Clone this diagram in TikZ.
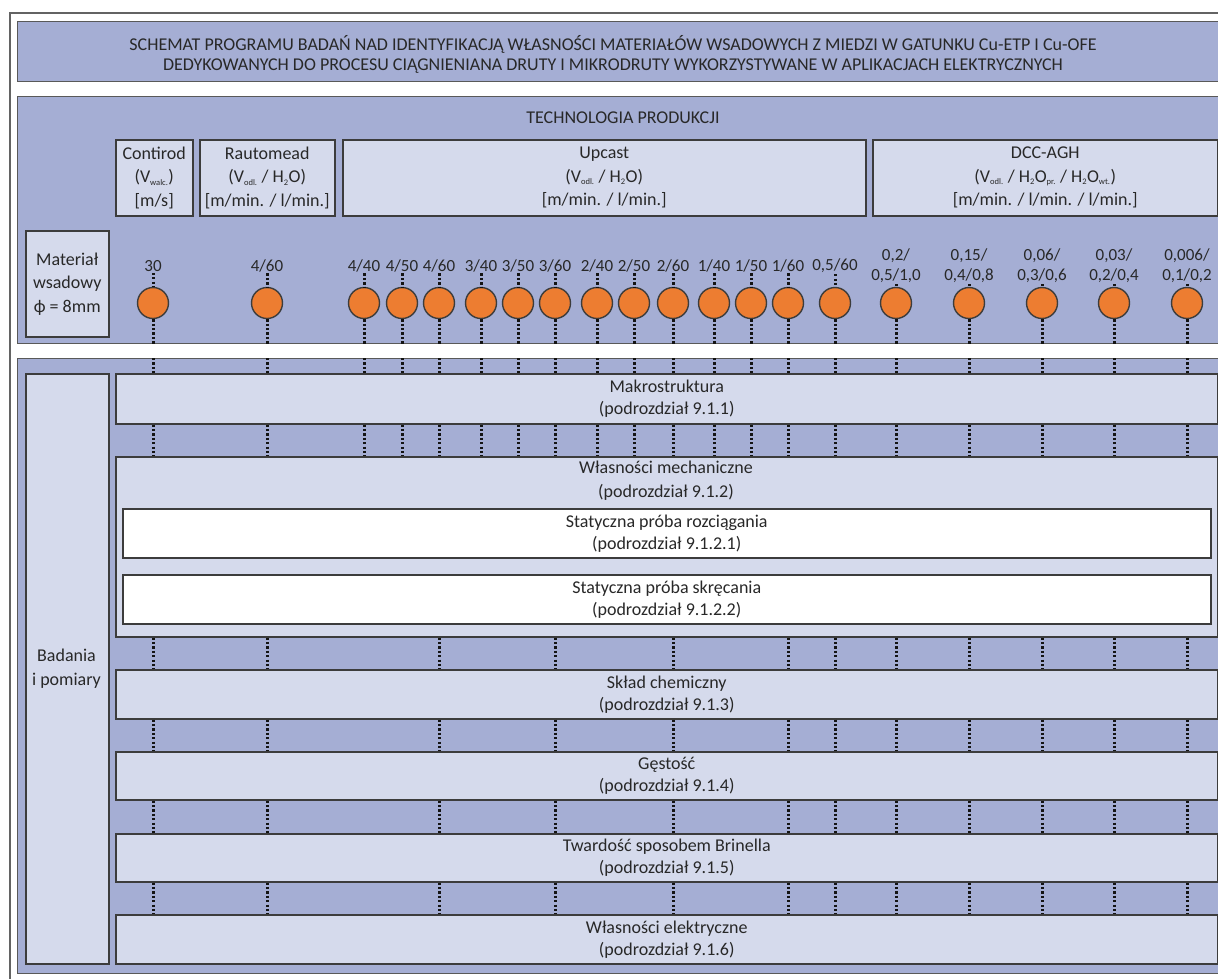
\documentclass[tikz,border=0pt]{standalone}
\usepackage{fontspec}
\setmainfont{Carlito}
\definecolor{panelblue}{RGB}{165,174,212}
\definecolor{boxblue}{RGB}{213,218,236}
\definecolor{edge}{RGB}{60,60,60}
\definecolor{inktext}{RGB}{40,40,40}
\definecolor{dotink}{RGB}{20,20,20}
\definecolor{copper}{RGB}{237,125,49}
\newcommand\lo[1]{\textsubscript{\fontsize{8.5}{8.5}\selectfont #1}}
\tikzset{
  panel/.style={draw=edge!85, line width=1.2pt, fill=panelblue, inner sep=0pt, anchor=north west},
  box/.style={draw=edge, line width=1.5pt, fill=boxblue, inner sep=0pt, anchor=north west,
    align=center, text=inktext, font=\fontsize{18}{22}\selectfont},
  techbox/.style={box, font=\fontsize{18}{23.5}\selectfont},
  wbox/.style={box, fill=white},
  txt/.style={text=inktext, align=center, inner sep=1pt, font=\fontsize{18}{20}\selectfont},
  lbl/.style={text=inktext, align=center, inner sep=1pt, font=\fontsize{17}{20}\selectfont},
  circ/.style={shape=circle, draw=edge, line width=1.4pt, fill=copper, minimum size=31pt, inner sep=0pt},
  dotline/.style={draw=dotink, line width=3pt, dash pattern=on 2.3pt off 2.1pt}
}
\begin{document}
\begin{tikzpicture}[x=1pt,y=-1pt]
\useasboundingbox (0,0) rectangle (1218,978);
\clip (0,0) rectangle (1218,978);
\fill[white] (0,0) rectangle (1218,978);
% outer frame
\draw[edge!80, line width=1.5pt] (10,13) rectangle (1240,1000);
% panels
\node[panel, minimum width=1223pt, minimum height=60pt] (head) at (17,21) {};
\node[txt] (headtxt) at (613,54) {SCHEMAT PROGRAMU BADAŃ NAD IDENTYFIKACJĄ WŁASNOŚCI MATERIAŁÓW WSADOWYCH Z MIEDZI W GATUNKU Cu-ETP I Cu-OFE\\DEDYKOWANYCH DO PROCESU CIĄGNIENIANA DRUTY I MIKRODRUTY WYKORZYSTYWANE W APLIKACJACH ELEKTRYCZNYCH};
\node[panel, minimum width=1223pt, minimum height=247pt] (top) at (17,96) {};
\node[txt] (techtxt) at (623,118) {TECHNOLOGIA PRODUKCJI};
\node[panel, minimum width=1223pt, minimum height=615pt] (low) at (17,358) {};
% production technologies
\node[techbox, minimum width=77pt, minimum height=76pt] (contirod) at (115,139) {Contirod\\(V\lo{walc.})\\{[m/s]}};
\node[techbox, minimum width=135pt, minimum height=76pt] (rauto) at (199,139) {Rautomead\\(V\lo{odl.} / H\lo{2}O)\\{[m/min. / l/min.]}};
\node[techbox, minimum width=523pt, minimum height=76pt] (upcast) at (342,139) {Upcast\\(V\lo{odl.} / H\lo{2}O)\\{[m/min. / l/min.]}};
\node[techbox, minimum width=345pt, minimum height=76pt] (dcc) at (872,139) {DCC-AGH\\(V\lo{odl.} / H\lo{2}O\lo{pr.} / H\lo{2}O\lo{wt.})\\{[m/min. / l/min. / l/min.]}};
\node[techbox, minimum width=83pt, minimum height=106pt] (feed) at (25,230) {Materiał\\wsadowy\\ϕ = 8mm};
% tests and measurements
\node[box, minimum width=83pt, minimum height=590pt] (tests) at (25,373) {};
\node[txt, font=\fontsize{18}{24}\selectfont] (teststxt) at (66.5,669) {Badania\\i pomiary};
\node[box, minimum width=1102pt, minimum height=50pt] (makro) at (115,373) {Makrostruktura\\(podrozdział 9.1.1)};
\node[box, minimum width=1102pt, minimum height=180pt] (mech) at (115,456) {};
\node[txt, font=\fontsize{18}{24}\selectfont] (mechtxt) at (666,481) {Własności mechaniczne\\(podrozdział 9.1.2)};
\node[wbox, minimum width=1088pt, minimum height=49pt] (tens) at (122,508) {Statyczna próba rozciągania\\(podrozdział 9.1.2.1)};
\node[wbox, minimum width=1088pt, minimum height=49pt] (tors) at (122,574) {Statyczna próba skręcania\\(podrozdział 9.1.2.2)};
\node[box, minimum width=1102pt, minimum height=49pt] (chem) at (115,669) {Skład chemiczny\\(podrozdział 9.1.3)};
\node[box, minimum width=1102pt, minimum height=48pt] (dens) at (115,751) {Gęstość\\(podrozdział 9.1.4)};
\node[box, minimum width=1102pt, minimum height=48pt] (hard) at (115,833) {Twardość sposobem Brinella\\(podrozdział 9.1.5)};
\node[box, minimum width=1102pt, minimum height=49pt] (elec) at (115,914) {Własności elektryczne\\(podrozdział 9.1.6)};
% samples and their paths through the tests
\foreach \cx/\lab/\low [count=\i] in {
  153/{30}/1, 267/{4/60}/1, 364/{4/40}/0, 402/{4/50}/0, 439/{4/60}/1,
  481/{3/40}/0, 518/{3/50}/0, 555/{3/60}/1, 597/{2/40}/0, 634/{2/50}/0,
  673/{2/60}/1, 714/{1/40}/0, 751/{1/50}/0, 788/{1/60}/1, 835/{0,5/60}/1,
  896/{0,2/\\0,5/1,0}/1, 969/{0,15/\\0,4/0,8}/1, 1042/{0,06/\\0,3/0,6}/1,
  1114/{0,03/\\0,2/0,4}/1, 1187/{0,006/\\0,1/0,2}/1}{
  \node[lbl] (l\i) at (\cx,266) {\lab};
  \node[circ] (c\i) at (\cx,303) {};
  \draw[dotline] (l\i.south) -- (c\i.north);
  \draw[dotline] (c\i.south) -- (c\i |- top.south);
  \draw[dotline] (c\i |- low.north) -- (c\i |- makro.north);
  \draw[dotline] (c\i |- makro.south) -- (c\i |- mech.north);
  \ifnum\low=1
    \draw[dotline] (c\i |- mech.south) -- (c\i |- chem.north);
    \draw[dotline] (c\i |- chem.south) -- (c\i |- dens.north);
    \draw[dotline] (c\i |- dens.south) -- (c\i |- hard.north);
    \draw[dotline] (c\i |- hard.south) -- (c\i |- elec.north);
  \fi
}
\end{tikzpicture}
\end{document}
